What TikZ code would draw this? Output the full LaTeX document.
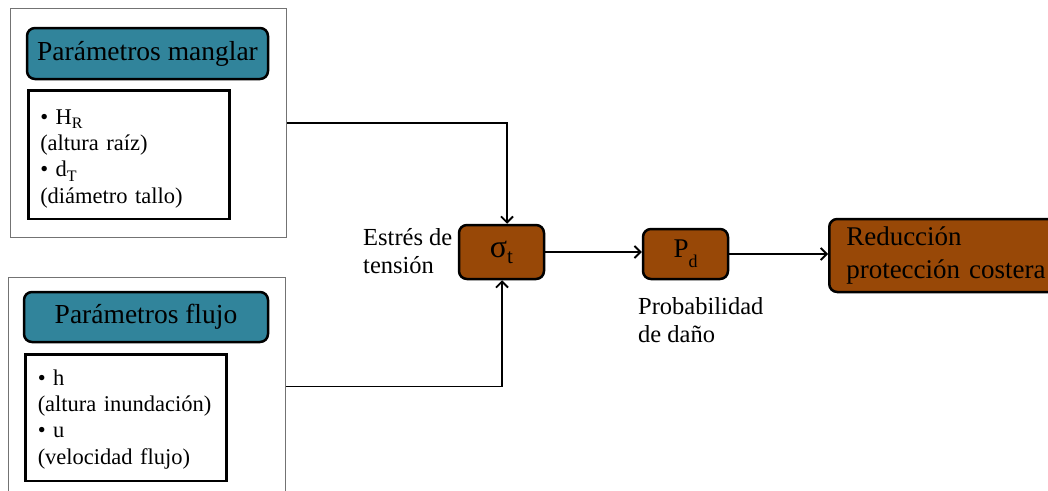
\documentclass[tikz,border=0pt]{standalone}
\usepackage{fontspec}
\setmainfont{Liberation Serif}
\usetikzlibrary{arrows.meta}
\definecolor{paramteal}{HTML}{31849B}
\definecolor{brownbox}{HTML}{984807}
\newcommand\lowsub[3]{\raisebox{-#1}{\fontsize{#2}{#2}\selectfont #3}}
\tikzset{
  outerbox/.style={draw=black!55, line width=1pt, inner sep=0pt, anchor=north west},
  parbox/.style={draw=black, line width=2.5pt, fill=paramteal, rounded corners=8pt, inner sep=0pt, font=\fontsize{27.5}{33}\selectfont},
  listbox/.style={draw=black, line width=2.5pt, fill=white, anchor=north west, align=left, inner ysep=0pt, font=\fontsize{22.5}{26.3}\selectfont},
  procbox/.style={draw=black, line width=2.5pt, fill=brownbox, rounded corners=8pt},
  lbl/.style={anchor=north west, align=left, inner sep=0pt, font=\fontsize{24.5}{28}\selectfont},
  conn/.style={line width=1.8pt, -{Straight Barb[length=6pt,width=12pt]}}
}
\begin{document}
\begin{tikzpicture}[x=1pt,y=-1pt]
\useasboundingbox (0,0) rectangle (1048,490);
\clip (0,0) rectangle (1048,490);
% outer frames
\node[outerbox, minimum width=276pt, minimum height=229pt] (outerA) at (10,8) {};
\node[outerbox, minimum width=277pt, minimum height=218pt] (outerB) at (8,277) {};
% processing boxes
\node[procbox, minimum width=85pt, minimum height=54pt, font=\fontsize{32}{34}\selectfont] (sig) at (501.5,252) {σ\lowsub{6pt}{21}{t}};
\node[procbox, minimum width=85pt, minimum height=50pt, font=\fontsize{27}{30}\selectfont] (pd) at (685.5,254) {P\lowsub{10pt}{18}{d}};
\node[procbox, anchor=west, minimum height=73pt, text width=230pt, inner xsep=17pt, align=left, font=\fontsize{27}{33}\selectfont] (fin) at (828,255.5) {Reducción\\protección costera};
% connectors
\draw[conn] (outerA.east) -| ([xshift=5.5pt]sig.north);
\draw[conn] (outerB.east) -| ([xshift=0.5pt]sig.south);
\draw[conn] (sig.east) -- (sig.east -| pd.west);
\draw[conn] (pd.east) -- (pd.east -| fin.west);
% parameter headers
\node[parbox, minimum width=241pt, minimum height=51pt] (parA) at (147.5,53.5) {Parámetros manglar};
\node[parbox, minimum width=244pt, minimum height=50pt] (parB) at (146,317) {Parámetros flujo};
% parameter lists
\node[listbox, text width=177pt, inner xsep=12pt] (listA) at (27,89)
  {\rule{0pt}{34pt}• H\lowsub{4pt}{16}{R}\\(altura raíz)\\• d\lowsub{5pt}{16}{T}\\(diámetro tallo)\rule[-16pt]{0pt}{16pt}};
\node[listbox, text width=176pt, inner xsep=12.5pt] (listB) at (24,353)
  {\rule{0pt}{31pt}• h\\(altura inundación)\\• u\\(velocidad flujo)\rule[-17pt]{0pt}{17pt}};
% labels
\node[lbl] (lblS) at (363,227) {\rule{0pt}{18pt}Estrés de\\tensión};
\node[lbl] (lblP) at (638,296) {\rule{0pt}{18pt}Probabilidad\\de daño};
\end{tikzpicture}
\end{document}
